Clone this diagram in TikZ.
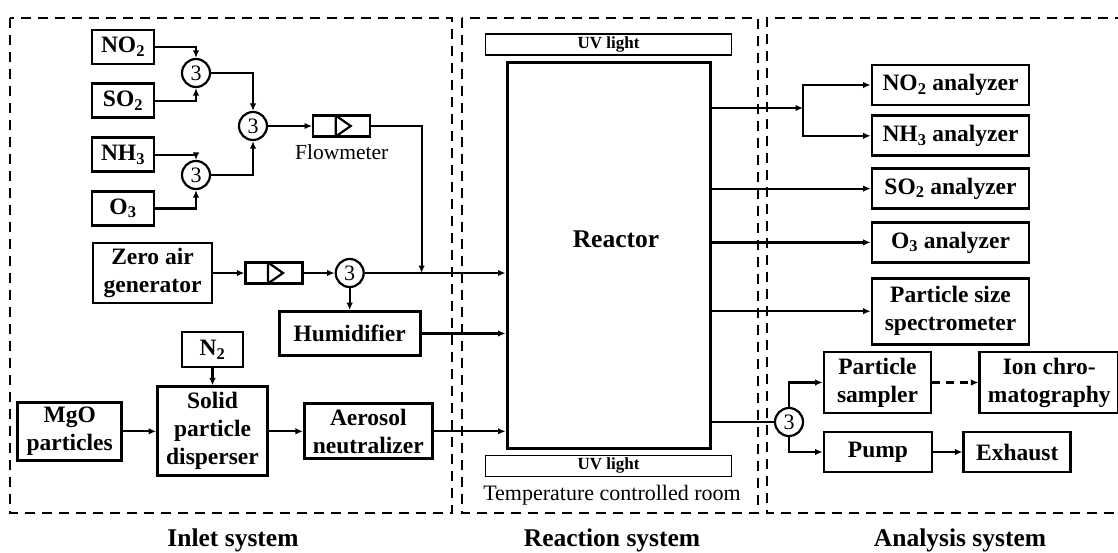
\documentclass[tikz,border=0pt]{standalone}
\usepackage{fontspec}
\setmainfont{Liberation Serif}
\usetikzlibrary{arrows.meta,positioning}

\begin{document}
\begin{tikzpicture}[x=1pt,y=-1pt,>={Latex[length=7.5pt,width=6.5pt]},line width=2.2pt,
    box/.style={draw,line width=2.8pt,inner sep=0pt,align=center,
      font=\fontsize{23.5}{28}\selectfont\bfseries},
    gas/.style={box,minimum width=62pt,minimum height=34pt},
    analyzer/.style={box,minimum width=157pt,minimum height=40pt},
    valve/.style={draw,circle,line width=2.2pt,minimum size=28pt,inner sep=0pt,
      font=\fontsize{22}{22}\selectfont},
    meter/.style={draw,line width=2.2pt,minimum width=57pt,minimum height=21pt,inner sep=0pt,
      path picture={\draw[line width=2.2pt]
        ([xshift=-6pt]path picture bounding box.north)--([xshift=9pt]path picture bounding box.center)
        --([xshift=-6pt]path picture bounding box.south)--cycle;}},
    uvbox/.style={draw,line width=1.6pt,minimum width=246pt,minimum height=21pt,inner sep=0pt,
      font=\fontsize{17}{18}\selectfont\bfseries},
    zone/.style={line width=2.4pt,dash pattern=on 10pt off 7pt},
    title/.style={font=\fontsize{25.5}{28}\selectfont\bfseries}]
  \useasboundingbox (0,0) rectangle (1118,552);
  % systems
  \draw[zone] (10,18) rectangle (452,513);
  \draw[zone] (462,18) rectangle (758,513);
  \draw[zone] (1125,18) -| (767,513) -- (1125,513);
  \node[title] (inlet) at (233,540) {Inlet system};
  \node[title] (reaction) at (612,540) {Reaction system};
  \node[title] (analysis) at (960,540) {Analysis system};
  % inlet
  \node[gas] (no2) at (123,47) {NO\textsubscript{2}};
  \node[gas,below=17pt of no2] (so2) {SO\textsubscript{2}};
  \node[gas,below=17pt of so2] (nh3) {NH\textsubscript{3}};
  \node[gas,below=17pt of nh3] (o3) {O\textsubscript{3}};
  \node[valve] (v1) at (196,73) {3};
  \node[valve] (v3) at (196,175) {3};
  \node[valve] (v2) at (253,126) {3};
  \node[meter,right=44pt of v2] (fm1) {};
  \node[font=\fontsize{21.5}{24}\selectfont,below=3pt of fm1] (fmname) {Flowmeter};
  \node[box,minimum width=119pt,minimum height=60pt] (zero) at (152.5,273) {Zero air\\generator};
  \node[meter,right=31pt of zero] (fm2) {};
  \node[valve,right=31pt of fm2] (v4) {3};
  \node[box,minimum width=141pt,minimum height=44pt,below=22pt of v4] (hum) {Humidifier};
  \node[box,minimum width=61pt,minimum height=35pt] (n2) at (212.5,349.5) {N\textsubscript{2}};
  \node[box,minimum width=110pt,minimum height=89pt,below=17pt of n2] (disp) {Solid\\particle\\disperser};
  \node[box,minimum width=104pt,minimum height=58pt,left=33pt of disp] (mgo) {MgO\\particles};
  \node[box,minimum width=128pt,minimum height=55pt,right=34pt of disp] (aer) {Aerosol\\neutralizer};
  % reaction
  \node[draw,line width=3pt,minimum width=203pt,minimum height=386pt] (reactor) at (608.5,255) {};
  \node[title] (reactorname) at (616,239) {Reactor};
  \node[uvbox,above=5pt of reactor] (uvtop) {UV light};
  \node[uvbox,below=5pt of reactor] (uvbot) {UV light};
  \node[font=\fontsize{22}{24}\selectfont] (room) at (612,495) {Temperature controlled room};
  % analysis
  \node[analyzer] (no2an) at (950.5,85) {NO\textsubscript{2} analyzer};
  \node[analyzer,below=8pt of no2an] (nh3an) {NH\textsubscript{3} analyzer};
  \node[analyzer,below=10pt of nh3an] (so2an) {SO\textsubscript{2} analyzer};
  \node[analyzer,below=11pt of so2an] (o3an) {O\textsubscript{3} analyzer};
  \node[analyzer,minimum height=66pt,below=13pt of o3an] (pss) {Particle size\\spectrometer};
  \node[valve] (v5) at (789,422) {3};
  \node[box,minimum width=107pt,minimum height=61pt] (sampler) at (877.5,382.5) {Particle\\sampler};
  \node[box,minimum width=139pt,minimum height=61pt,right=46pt of sampler] (ion) {Ion chro-\\matography};
  \node[box,minimum width=108pt,minimum height=40pt] (pump) at (878,452) {Pump};
  \node[box,minimum width=107pt,minimum height=40pt,right=29pt of pump] (exhaust) {Exhaust};
  \coordinate (join) at (v4 -| hum.east);
  \coordinate (split) at (803,108);
  % connectors
  \draw[->] (no2) -| (v1);
  \draw[->] (so2) -| (v1);
  \draw[->] (nh3) -| (v3);
  \draw[->] (o3) -| (v3);
  \draw[->] (v1) -| (v2);
  \draw[->] (v3) -| (v2);
  \draw[->] (v2) -- (fm1);
  \draw[->] (fm1) -| (join);
  \draw[->] (zero) -- (fm2);
  \draw[->] (fm2) -- (v4);
  \draw[->] (v4) -- (v4 -| reactor.west);
  \draw[->] (v4) -- (hum);
  \draw[->] (hum) -- (hum -| reactor.west);
  \draw[->] (n2) -- (disp);
  \draw[->] (mgo) -- (disp);
  \draw[->] (disp) -- (aer);
  \draw[->] (aer) -- (aer -| reactor.west);
  \draw[->] (reactor.east |- split) -- (split);
  \draw[->] (split) |- (no2an);
  \draw[->] (split) |- (nh3an);
  \draw[->] (reactor.east |- so2an) -- (so2an);
  \draw[->] (reactor.east |- o3an) -- (o3an);
  \draw[->] (reactor.east |- pss) -- (pss);
  \draw (reactor.east |- v5) -- (v5);
  \draw[->] (v5) |- (sampler);
  \draw[->] (v5) |- (pump);
  \draw[->,dash pattern=on 8pt off 6pt] (sampler) -- (ion);
  \draw[->] (pump) -- (exhaust);
\end{tikzpicture}
\end{document}
